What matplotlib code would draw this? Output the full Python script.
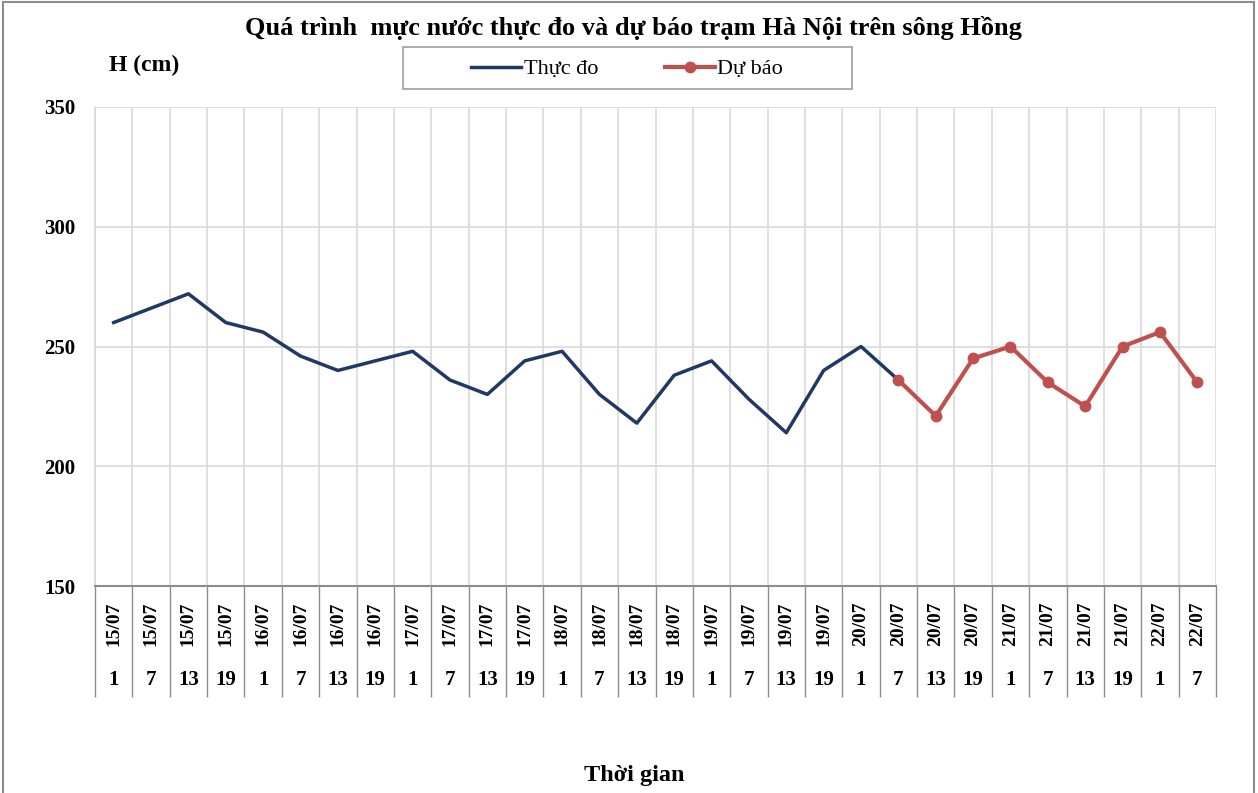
import matplotlib
matplotlib.use("Agg")
from matplotlib import pyplot as plt
from matplotlib.lines import Line2D
from matplotlib.patches import Rectangle
import matplotlib.transforms as mtransforms
import numpy as np

plt.rcParams['font.family'] = ['Liberation Serif', 'DejaVu Serif']
plt.rcParams['font.weight'] = 'bold'

# category labels (date / hour)
dates = ["15/07"] * 4 + ["16/07"] * 4 + ["17/07"] * 4 + ["18/07"] * 4 + \
        ["19/07"] * 4 + ["20/07"] * 4 + ["21/07"] * 4 + ["22/07"] * 2
hours = ["1", "7", "13", "19"] * 7 + ["1", "7"]

# observed water level (cm), first 22 categories
observed = [260, 266, 272, 260, 256, 246, 240, 244, 248, 236, 230, 244,
            248, 230, 218, 238, 244, 228, 214, 240, 250, 236]
# forecast water level (cm), from 20/07 7h onwards
forecast = [236, 221, 245, 250, 235, 225, 250, 256, 235]
forecast_start = 21

NAVY = "#1F3864"
RED = "#C0504D"
GRID = "#D9D9D9"
AXIS = "#8C8C8C"

W, H = 1258, 793
fig = plt.figure(figsize=(W / 100, H / 100), dpi=100)
ax = fig.add_axes([95 / W, 1 - 586 / H, (1216 - 95) / W, (586 - 107) / H])

n = len(dates)
x_obs = np.arange(len(observed))
x_fc = np.arange(forecast_start, forecast_start + len(forecast))

ax.plot(x_obs, observed, color=NAVY, lw=2.5, label="Thực đo", zorder=3)
ax.plot(x_fc, forecast, color=RED, lw=3.0, marker="o", ms=7.5, label="Dự báo", zorder=4)

ax.set_xlim(-0.5, n - 0.5)
ax.set_ylim(150, 350)
ax.set_yticks([150, 200, 250, 300, 350])
ax.tick_params(axis="y", length=0, pad=14, labelsize=15)
for lbl in ax.get_yticklabels():
    lbl.set_fontweight("bold")

# category boundaries: grid above, long ticks below forming the label table
ax.set_xticks([])
ax.set_xticks(np.arange(-0.5, n, 1), minor=True)
ax.tick_params(axis="x", which="minor", direction="out", length=80, width=1.0,
               color=AXIS, labelbottom=False)
ax.grid(True, which="minor", axis="x", color=GRID, lw=1.2)
ax.grid(True, which="major", axis="y", color=GRID, lw=1.2)
ax.set_axisbelow(True)

for side in ["top", "right"]:
    ax.spines[side].set_visible(False)
ax.spines["left"].set_color(GRID)
ax.spines["left"].set_linewidth(1.2)
ax.spines["bottom"].set_color(AXIS)
ax.spines["bottom"].set_linewidth(1.5)

trans = mtransforms.blended_transform_factory(ax.transData, ax.transAxes)
for i, (d, h) in enumerate(zip(dates, hours)):
    ax.text(i, -0.078, d, transform=trans, rotation=90, ha="center", va="center",
            fontsize=14, fontweight="bold")
    ax.text(i, -0.196, h, transform=trans, ha="center", va="center",
            fontsize=15, fontweight="bold")

fig.text(633 / W, 1 - 28 / H, "Quá trình  mực nước thực đo và dự báo trạm Hà Nội trên sông Hồng",
         ha="center", va="center", fontsize=19, fontweight="bold")
fig.text(144 / W, 1 - 65 / H, "H (cm)", ha="center", va="center",
         fontsize=17, fontweight="bold")
fig.text(634 / W, 1 - 776 / H, "Thời gian", ha="center", va="center",
         fontsize=17.5, fontweight="bold")

leg = fig.legend(loc="center", bbox_to_anchor=(627 / W, 1 - 69 / H), ncol=2,
                 frameon=False, prop={"size": 16, "weight": "normal"},
                 handlelength=2.25, handletextpad=0.1, columnspacing=3.0,
                 borderpad=0.3, borderaxespad=0)
# legend frame
fig.add_artist(Rectangle((403 / W, 1 - 89 / H), (852 - 403) / W, 42 / H,
                         transform=fig.transFigure, fill=False,
                         edgecolor="#A6A6A6", lw=1.3))

# outer chart border
for xs, ys in [([0.002, 0.002], [0.0, 0.997]), ([0.002, 0.997], [0.997, 0.997]),
               ([0.997, 0.997], [0.997, 0.0])]:
    fig.add_artist(Line2D(xs, ys, transform=fig.transFigure, color="#8C8C8C", lw=1.5))

fig.savefig("out.png", dpi=100, facecolor="white")
